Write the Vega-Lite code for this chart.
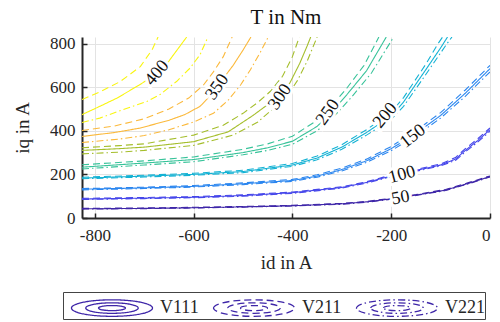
{
"$schema": "https://vega.github.io/schema/vega-lite/v6.json",
"width": 408, "height": 181,
"autosize": {"type": "none"},
"padding": {"left": 82, "top": 37, "right": 10, "bottom": 104},
"background": "white",
"config": {"view": {"stroke": null}, "font": "Liberation Serif"},
"title": {"text": "T in Nm", "font": "Liberation Serif", "fontSize": 21, "fontWeight": "normal", "color": "#111", "offset": 7},
"datasets": {
"lines": [
{"variant":"V111","level":50,"id":-826,"iq":42},{"variant":"V111","level":50,"id":-700,"iq":44},{"variant":"V111","level":50,"id":-600,"iq":47},{"variant":"V111","level":50,"id":-500,"iq":51},{"variant":"V111","level":50,"id":-400,"iq":56},{"variant":"V111","level":50,"id":-300,"iq":65},{"variant":"V111","level":50,"id":-250,"iq":74},{"variant":"V111","level":50,"id":-200,"iq":88},{"variant":"V111","level":50,"id":-150,"iq":105},{"variant":"V111","level":50,"id":-90,"iq":128},{"variant":"V111","level":50,"id":-45,"iq":158},{"variant":"V111","level":50,"id":0,"iq":190},
{"variant":"V211","level":50,"id":-826,"iq":44},{"variant":"V211","level":50,"id":-700,"iq":46},{"variant":"V211","level":50,"id":-600,"iq":49},{"variant":"V211","level":50,"id":-500,"iq":53},{"variant":"V211","level":50,"id":-400,"iq":58},{"variant":"V211","level":50,"id":-300,"iq":67},{"variant":"V211","level":50,"id":-250,"iq":76},{"variant":"V211","level":50,"id":-200,"iq":90},{"variant":"V211","level":50,"id":-150,"iq":107},{"variant":"V211","level":50,"id":-90,"iq":131},{"variant":"V211","level":50,"id":-45,"iq":161},{"variant":"V211","level":50,"id":0,"iq":193},
{"variant":"V221","level":50,"id":-826,"iq":41},{"variant":"V221","level":50,"id":-700,"iq":43},{"variant":"V221","level":50,"id":-600,"iq":46},{"variant":"V221","level":50,"id":-500,"iq":50},{"variant":"V221","level":50,"id":-400,"iq":55},{"variant":"V221","level":50,"id":-300,"iq":63},{"variant":"V221","level":50,"id":-250,"iq":72},{"variant":"V221","level":50,"id":-200,"iq":86},{"variant":"V221","level":50,"id":-150,"iq":103},{"variant":"V221","level":50,"id":-90,"iq":126},{"variant":"V221","level":50,"id":-45,"iq":156},{"variant":"V221","level":50,"id":0,"iq":188},
{"variant":"V111","level":100,"id":-826,"iq":87},{"variant":"V111","level":100,"id":-700,"iq":91},{"variant":"V111","level":100,"id":-600,"iq":95},{"variant":"V111","level":100,"id":-500,"iq":103},{"variant":"V111","level":100,"id":-400,"iq":116},{"variant":"V111","level":100,"id":-300,"iq":140},{"variant":"V111","level":100,"id":-250,"iq":163},{"variant":"V111","level":100,"id":-200,"iq":193},{"variant":"V111","level":100,"id":-150,"iq":218},{"variant":"V111","level":100,"id":-100,"iq":243},{"variant":"V111","level":100,"id":-70,"iq":270},{"variant":"V111","level":100,"id":-50,"iq":310},{"variant":"V111","level":100,"id":-25,"iq":355},{"variant":"V111","level":100,"id":0,"iq":405},
{"variant":"V211","level":100,"id":-826,"iq":90},{"variant":"V211","level":100,"id":-700,"iq":94},{"variant":"V211","level":100,"id":-600,"iq":98},{"variant":"V211","level":100,"id":-500,"iq":106},{"variant":"V211","level":100,"id":-400,"iq":119},{"variant":"V211","level":100,"id":-300,"iq":143},{"variant":"V211","level":100,"id":-250,"iq":166},{"variant":"V211","level":100,"id":-200,"iq":197},{"variant":"V211","level":100,"id":-150,"iq":222},{"variant":"V211","level":100,"id":-100,"iq":248},{"variant":"V211","level":100,"id":-70,"iq":277},{"variant":"V211","level":100,"id":-50,"iq":318},{"variant":"V211","level":100,"id":-25,"iq":363},{"variant":"V211","level":100,"id":0,"iq":413},
{"variant":"V221","level":100,"id":-826,"iq":85},{"variant":"V221","level":100,"id":-700,"iq":89},{"variant":"V221","level":100,"id":-600,"iq":93},{"variant":"V221","level":100,"id":-500,"iq":100},{"variant":"V221","level":100,"id":-400,"iq":113},{"variant":"V221","level":100,"id":-300,"iq":137},{"variant":"V221","level":100,"id":-250,"iq":160},{"variant":"V221","level":100,"id":-200,"iq":190},{"variant":"V221","level":100,"id":-150,"iq":214},{"variant":"V221","level":100,"id":-100,"iq":239},{"variant":"V221","level":100,"id":-70,"iq":264},{"variant":"V221","level":100,"id":-50,"iq":303},{"variant":"V221","level":100,"id":-25,"iq":348},{"variant":"V221","level":100,"id":0,"iq":398},
{"variant":"V111","level":150,"id":-826,"iq":132},{"variant":"V111","level":150,"id":-700,"iq":138},{"variant":"V111","level":150,"id":-600,"iq":145},{"variant":"V111","level":150,"id":-500,"iq":157},{"variant":"V111","level":150,"id":-400,"iq":172},{"variant":"V111","level":150,"id":-350,"iq":192},{"variant":"V111","level":150,"id":-300,"iq":222},{"variant":"V111","level":150,"id":-250,"iq":262},{"variant":"V111","level":150,"id":-200,"iq":318},{"variant":"V111","level":150,"id":-150,"iq":388},{"variant":"V111","level":150,"id":-100,"iq":470},{"variant":"V111","level":150,"id":-50,"iq":572},{"variant":"V111","level":150,"id":0,"iq":685},
{"variant":"V211","level":150,"id":-826,"iq":135},{"variant":"V211","level":150,"id":-700,"iq":141},{"variant":"V211","level":150,"id":-600,"iq":149},{"variant":"V211","level":150,"id":-500,"iq":161},{"variant":"V211","level":150,"id":-400,"iq":177},{"variant":"V211","level":150,"id":-350,"iq":198},{"variant":"V211","level":150,"id":-300,"iq":229},{"variant":"V211","level":150,"id":-250,"iq":270},{"variant":"V211","level":150,"id":-200,"iq":328},{"variant":"V211","level":150,"id":-150,"iq":400},{"variant":"V211","level":150,"id":-100,"iq":483},{"variant":"V211","level":150,"id":-50,"iq":587},{"variant":"V211","level":150,"id":0,"iq":700},
{"variant":"V221","level":150,"id":-826,"iq":129},{"variant":"V221","level":150,"id":-700,"iq":135},{"variant":"V221","level":150,"id":-600,"iq":142},{"variant":"V221","level":150,"id":-500,"iq":153},{"variant":"V221","level":150,"id":-400,"iq":168},{"variant":"V221","level":150,"id":-350,"iq":187},{"variant":"V221","level":150,"id":-300,"iq":216},{"variant":"V221","level":150,"id":-250,"iq":255},{"variant":"V221","level":150,"id":-200,"iq":309},{"variant":"V221","level":150,"id":-150,"iq":377},{"variant":"V221","level":150,"id":-100,"iq":458},{"variant":"V221","level":150,"id":-50,"iq":558},{"variant":"V221","level":150,"id":0,"iq":670},
{"variant":"V111","level":200,"id":-826,"iq":183},{"variant":"V111","level":200,"id":-700,"iq":192},{"variant":"V111","level":200,"id":-600,"iq":200},{"variant":"V111","level":200,"id":-500,"iq":213},{"variant":"V111","level":200,"id":-400,"iq":243},{"variant":"V111","level":200,"id":-350,"iq":275},{"variant":"V111","level":200,"id":-300,"iq":325},{"variant":"V111","level":200,"id":-250,"iq":392},{"variant":"V111","level":200,"id":-200,"iq":468},{"variant":"V111","level":200,"id":-175,"iq":532},{"variant":"V111","level":200,"id":-130,"iq":680},{"variant":"V111","level":200,"id":-100,"iq":780},{"variant":"V111","level":200,"id":-86,"iq":830},
{"variant":"V211","level":200,"id":-826,"iq":187},{"variant":"V211","level":200,"id":-700,"iq":196},{"variant":"V211","level":200,"id":-600,"iq":205},{"variant":"V211","level":200,"id":-500,"iq":219},{"variant":"V211","level":200,"id":-400,"iq":250},{"variant":"V211","level":200,"id":-350,"iq":284},{"variant":"V211","level":200,"id":-300,"iq":336},{"variant":"V211","level":200,"id":-250,"iq":405},{"variant":"V211","level":200,"id":-200,"iq":485},{"variant":"V211","level":200,"id":-175,"iq":552},{"variant":"V211","level":200,"id":-130,"iq":705},{"variant":"V211","level":200,"id":-105,"iq":800},{"variant":"V211","level":200,"id":-96,"iq":830},
{"variant":"V221","level":200,"id":-826,"iq":180},{"variant":"V221","level":200,"id":-700,"iq":188},{"variant":"V221","level":200,"id":-600,"iq":196},{"variant":"V221","level":200,"id":-500,"iq":208},{"variant":"V221","level":200,"id":-400,"iq":237},{"variant":"V221","level":200,"id":-350,"iq":267},{"variant":"V221","level":200,"id":-300,"iq":315},{"variant":"V221","level":200,"id":-250,"iq":380},{"variant":"V221","level":200,"id":-200,"iq":452},{"variant":"V221","level":200,"id":-175,"iq":512},{"variant":"V221","level":200,"id":-130,"iq":658},{"variant":"V221","level":200,"id":-90,"iq":790},{"variant":"V221","level":200,"id":-77,"iq":830},
{"variant":"V111","level":250,"id":-826,"iq":233},{"variant":"V111","level":250,"id":-700,"iq":252},{"variant":"V111","level":250,"id":-600,"iq":268},{"variant":"V111","level":250,"id":-500,"iq":300},{"variant":"V111","level":250,"id":-450,"iq":322},{"variant":"V111","level":250,"id":-400,"iq":352},{"variant":"V111","level":250,"id":-350,"iq":420},{"variant":"V111","level":250,"id":-320,"iq":488},{"variant":"V111","level":250,"id":-290,"iq":565},{"variant":"V111","level":250,"id":-250,"iq":675},{"variant":"V111","level":250,"id":-210,"iq":830},
{"variant":"V211","level":250,"id":-826,"iq":244},{"variant":"V211","level":250,"id":-700,"iq":262},{"variant":"V211","level":250,"id":-600,"iq":280},{"variant":"V211","level":250,"id":-500,"iq":315},{"variant":"V211","level":250,"id":-450,"iq":340},{"variant":"V211","level":250,"id":-400,"iq":375},{"variant":"V211","level":250,"id":-350,"iq":448},{"variant":"V211","level":250,"id":-320,"iq":515},{"variant":"V211","level":250,"id":-290,"iq":595},{"variant":"V211","level":250,"id":-255,"iq":700},{"variant":"V211","level":250,"id":-225,"iq":830},
{"variant":"V221","level":250,"id":-826,"iq":225},{"variant":"V221","level":250,"id":-700,"iq":243},{"variant":"V221","level":250,"id":-600,"iq":258},{"variant":"V221","level":250,"id":-500,"iq":290},{"variant":"V221","level":250,"id":-450,"iq":310},{"variant":"V221","level":250,"id":-400,"iq":338},{"variant":"V221","level":250,"id":-350,"iq":400},{"variant":"V221","level":250,"id":-310,"iq":480},{"variant":"V221","level":250,"id":-280,"iq":555},{"variant":"V221","level":250,"id":-240,"iq":665},{"variant":"V221","level":250,"id":-195,"iq":830},
{"variant":"V111","level":300,"id":-826,"iq":310},{"variant":"V111","level":300,"id":-750,"iq":318},{"variant":"V111","level":300,"id":-700,"iq":325},{"variant":"V111","level":300,"id":-600,"iq":350},{"variant":"V111","level":300,"id":-530,"iq":395},{"variant":"V111","level":300,"id":-480,"iq":470},{"variant":"V111","level":300,"id":-450,"iq":520},{"variant":"V111","level":300,"id":-425,"iq":560},{"variant":"V111","level":300,"id":-405,"iq":620},{"variant":"V111","level":300,"id":-385,"iq":710},{"variant":"V111","level":300,"id":-370,"iq":790},{"variant":"V111","level":300,"id":-363,"iq":830},
{"variant":"V211","level":300,"id":-826,"iq":322},{"variant":"V211","level":300,"id":-750,"iq":332},{"variant":"V211","level":300,"id":-700,"iq":340},{"variant":"V211","level":300,"id":-600,"iq":380},{"variant":"V211","level":300,"id":-540,"iq":425},{"variant":"V211","level":300,"id":-500,"iq":480},{"variant":"V211","level":300,"id":-470,"iq":530},{"variant":"V211","level":300,"id":-445,"iq":580},{"variant":"V211","level":300,"id":-420,"iq":650},{"variant":"V211","level":300,"id":-400,"iq":740},{"variant":"V211","level":300,"id":-386,"iq":830},
{"variant":"V221","level":300,"id":-826,"iq":294},{"variant":"V221","level":300,"id":-750,"iq":302},{"variant":"V221","level":300,"id":-700,"iq":310},{"variant":"V221","level":300,"id":-600,"iq":333},{"variant":"V221","level":300,"id":-520,"iq":380},{"variant":"V221","level":300,"id":-470,"iq":440},{"variant":"V221","level":300,"id":-440,"iq":500},{"variant":"V221","level":300,"id":-410,"iq":560},{"variant":"V221","level":300,"id":-390,"iq":630},{"variant":"V221","level":300,"id":-370,"iq":720},{"variant":"V221","level":300,"id":-350,"iq":830},
{"variant":"V111","level":350,"id":-826,"iq":374},{"variant":"V111","level":350,"id":-760,"iq":392},{"variant":"V111","level":350,"id":-709,"iq":412},{"variant":"V111","level":350,"id":-650,"iq":448},{"variant":"V111","level":350,"id":-618,"iq":474},{"variant":"V111","level":350,"id":-587,"iq":512},{"variant":"V111","level":350,"id":-560,"iq":575},{"variant":"V111","level":350,"id":-540,"iq":640},{"variant":"V111","level":350,"id":-520,"iq":700},{"variant":"V111","level":350,"id":-500,"iq":770},{"variant":"V111","level":350,"id":-484,"iq":830},
{"variant":"V211","level":350,"id":-826,"iq":401},{"variant":"V211","level":350,"id":-760,"iq":422},{"variant":"V211","level":350,"id":-700,"iq":455},{"variant":"V211","level":350,"id":-650,"iq":500},{"variant":"V211","level":350,"id":-610,"iq":550},{"variant":"V211","level":350,"id":-580,"iq":610},{"variant":"V211","level":350,"id":-560,"iq":670},{"variant":"V211","level":350,"id":-540,"iq":740},{"variant":"V211","level":350,"id":-522,"iq":830},
{"variant":"V221","level":350,"id":-826,"iq":346},{"variant":"V221","level":350,"id":-750,"iq":362},{"variant":"V221","level":350,"id":-700,"iq":378},{"variant":"V221","level":350,"id":-650,"iq":405},{"variant":"V221","level":350,"id":-600,"iq":440},{"variant":"V221","level":350,"id":-560,"iq":480},{"variant":"V221","level":350,"id":-530,"iq":540},{"variant":"V221","level":350,"id":-505,"iq":610},{"variant":"V221","level":350,"id":-485,"iq":680},{"variant":"V221","level":350,"id":-465,"iq":760},{"variant":"V221","level":350,"id":-449,"iq":830},
{"variant":"V111","level":400,"id":-826,"iq":474},{"variant":"V111","level":400,"id":-790,"iq":512},{"variant":"V111","level":400,"id":-755,"iq":550},{"variant":"V111","level":400,"id":-710,"iq":610},{"variant":"V111","level":400,"id":-672,"iq":665},{"variant":"V111","level":400,"id":-650,"iq":720},{"variant":"V111","level":400,"id":-632,"iq":775},{"variant":"V111","level":400,"id":-614,"iq":830},
{"variant":"V211","level":400,"id":-826,"iq":543},{"variant":"V211","level":400,"id":-789,"iq":579},{"variant":"V211","level":400,"id":-749,"iq":625},{"variant":"V211","level":400,"id":-708,"iq":694},{"variant":"V211","level":400,"id":-684,"iq":772},{"variant":"V211","level":400,"id":-672,"iq":830},
{"variant":"V221","level":400,"id":-826,"iq":438},{"variant":"V221","level":400,"id":-790,"iq":458},{"variant":"V221","level":400,"id":-743,"iq":497},{"variant":"V221","level":400,"id":-694,"iq":535},{"variant":"V221","level":400,"id":-668,"iq":566},{"variant":"V221","level":400,"id":-634,"iq":627},{"variant":"V221","level":400,"id":-607,"iq":688},{"variant":"V221","level":400,"id":-587,"iq":749},{"variant":"V221","level":400,"id":-571,"iq":830}
],
"labels": [
{"level":50,"text":"50","id":-181,"iq":92},
{"level":100,"text":"100","id":-178,"iq":198},
{"level":150,"text":"150","id":-156,"iq":375},
{"level":200,"text":"200","id":-212,"iq":470},
{"level":250,"text":"250","id":-328,"iq":485},
{"level":300,"text":"300","id":-425,"iq":555},
{"level":350,"text":"350","id":-552,"iq":600},
{"level":400,"text":"400","id":-674,"iq":665}
]
},
"layer": [
{
"data": {"name": "lines"},
"mark": {"type": "line", "strokeWidth": 1.1, "clip": true},
"encoding": {
"x": {"field": "id", "type": "quantitative", "scale": {"domain": [-826, 0], "nice": false, "zero": false},
"axis": {"title": "id in A", "values": [-800, -600, -400, -200, 0], "labelExpr": "'' + datum.value", "grid": true, "gridColor": "#e3e3e3", "gridWidth": 1, "domainColor": "#262626", "domainWidth": 2, "tickColor": "#262626", "tickSize": -5, "tickWidth": 1.5, "labelPadding": 14, "labelFont": "Liberation Serif", "labelFontSize": 17, "labelColor": "#262626", "titleFont": "Liberation Serif", "titleFontSize": 19, "titleFontWeight": "normal", "titleColor": "#262626", "titlePadding": 10}},
"y": {"field": "iq", "type": "quantitative", "scale": {"domain": [0, 830], "nice": false},
"axis": {"title": "iq in A", "values": [0, 200, 400, 600, 800], "grid": true, "gridColor": "#e3e3e3", "gridWidth": 1, "domainColor": "#262626", "domainWidth": 2, "tickColor": "#262626", "tickSize": -5, "tickWidth": 1.5, "labelPadding": 12, "labelFont": "Liberation Serif", "labelFontSize": 17, "labelColor": "#262626", "titleFont": "Liberation Serif", "titleFontSize": 19, "titleFontWeight": "normal", "titleColor": "#262626", "titlePadding": 17}},
"color": {"field": "level", "type": "ordinal", "scale": {"domain": [50, 100, 150, 200, 250, 300, 350, 400], "range": ["#3e26a8", "#4546ea", "#2b86ef", "#14b2d4", "#38c39a", "#a5be2c", "#fbb93b", "#f9f510"]}, "legend": null},
"strokeDash": {"field": "variant", "type": "nominal", "scale": {"domain": ["V111", "V211", "V221"], "range": [[1, 0], [7, 4], [7, 3, 1.5, 3]]},
"legend": {"title": null, "orient": "none", "legendX": -19, "legendY": 255, "direction": "horizontal", "columns": 3,
"symbolType": "M-2.7,0A2.7,0.55,0,1,1,2.7,0A2.7,0.55,0,1,1,-2.7,0M-1.75,0A1.75,0.35,0,1,1,1.75,0A1.75,0.35,0,1,1,-1.75,0M-0.9,0A0.9,0.17,0,1,1,0.9,0A0.9,0.17,0,1,1,-0.9,0",
"symbolSize": 900, "symbolStrokeColor": "#3e26a8", "symbolFillColor": "transparent", "symbolStrokeWidth": 1.3, "symbolOffset": 33,
"labelOffset": 32, "columnPadding": 6, "padding": 0, "strokeColor": "#444", "fillColor": "white",
"labelFont": "Liberation Serif", "labelFontSize": 18, "labelColor": "#262626"}}
}
},
{
"data": {"name": "labels"},
"mark": {"type": "text", "font": "Liberation Serif", "fontSize": 18, "fill": "white", "stroke": "white", "strokeWidth": 6, "align": "center", "baseline": "middle"},
"encoding": {
"x": {"field": "id", "type": "quantitative"},
"y": {"field": "iq", "type": "quantitative"},
"text": {"field": "text"},
"angle": {"field": "level", "type": "quantitative", "scale": {"type": "linear", "domain": [50, 100, 150, 200, 250, 350, 400], "range": [-10, -15, -38, -50, -55, -55, -50]}, "legend": null}
}
},
{
"data": {"name": "labels"},
"mark": {"type": "text", "font": "Liberation Serif", "fontSize": 18, "color": "#111", "align": "center", "baseline": "middle"},
"encoding": {
"x": {"field": "id", "type": "quantitative"},
"y": {"field": "iq", "type": "quantitative"},
"text": {"field": "text"},
"angle": {"field": "level", "type": "quantitative", "scale": {"type": "linear", "domain": [50, 100, 150, 200, 250, 350, 400], "range": [-10, -15, -38, -50, -55, -55, -50]}, "legend": null}
}
}
]
}
